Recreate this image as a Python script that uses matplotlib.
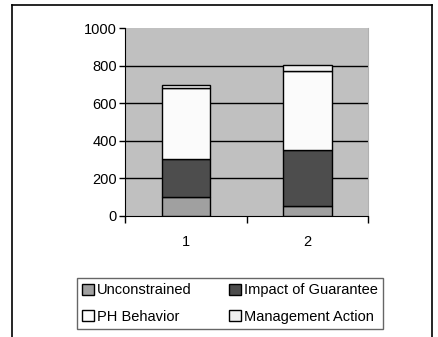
import matplotlib
matplotlib.use("Agg")
import matplotlib.pyplot as plt
from matplotlib.lines import Line2D
import numpy as np

plt.rcParams['font.family'] = ['Liberation Sans', 'DejaVu Sans']

categories = ["1", "2"]
series_names = ["Unconstrained", "Impact of Guarantee", "PH Behavior", "Management Action"]
unconstrained = [100, 50]
guarantee = [200, 300]
ph_behavior = [380, 420]
management = [20, 35]
yticks = [0, 200, 400, 600, 800, 1000]

colors = ["#a0a0a0", "#4d4d4d", "#fbfbfb", "#f0f0f0"]

fig = plt.figure(figsize=(4.38, 3.37), dpi=100)
W, H = 438, 337

# outer chart frame (open at the bottom)
fig.add_artist(Line2D([12 / W, 12 / W], [0, 1 - 5 / H], color="black", lw=1.2))
fig.add_artist(Line2D([12 / W, 432 / W], [1 - 5 / H, 1 - 5 / H], color="black", lw=1.2))
fig.add_artist(Line2D([432 / W, 432 / W], [0, 1 - 5 / H], color="black", lw=1.2))

ax = fig.add_axes([125.3 / W, 1 - 215.7 / H, (368.3 - 125.3) / W, (215.7 - 28.3) / H])
ax.set_facecolor("#c0c0c0")

x = np.arange(len(categories))
series = [unconstrained, guarantee, ph_behavior, management]
bottom = np.zeros(len(categories))
for vals, col, name in zip(series, colors, series_names):
    ax.bar(x, vals, width=0.4, bottom=bottom, color=col, edgecolor="black",
           linewidth=1.0, label=name, zorder=3)
    bottom += np.array(vals)

ax.set_xlim(-0.5, 1.5)
ax.set_ylim(0, 1000)
ax.set_yticks(yticks)
ax.set_yticklabels([str(v) for v in yticks], fontsize=10.5)
ax.set_xticks([-0.5, 0.5, 1.5])
ax.set_xticks(x, minor=True)
ax.set_xticklabels(["", "", ""])
ax.set_xticklabels(categories, minor=True, fontsize=10.5)
ax.tick_params(axis="x", which="major", length=5, direction="out", width=1)
ax.tick_params(axis="x", which="minor", length=0, pad=14)
ax.tick_params(axis="y", length=4, direction="out", width=1, pad=2)

for v in yticks[1:-1]:
    ax.axhline(v, color="black", lw=1.0, zorder=1)

ax.spines["top"].set_visible(False)
ax.spines["right"].set_color("#b0b0b0")
ax.spines["left"].set_color("black")
ax.spines["bottom"].set_color("black")

# legend filled row by row
handles, labels = ax.get_legend_handles_labels()
order = [0, 2, 1, 3]
leg = fig.legend([handles[i] for i in order], [labels[i] for i in order],
                 loc="center",
                 bbox_to_anchor=((74.7 + 385) / 2 / W, 1 - (274 + 333) / 2 / H),
                 ncol=2, fontsize=10.5, frameon=True, fancybox=False,
                 edgecolor="#404040", handlelength=0.8, handleheight=0.8,
                 handletextpad=0.2, columnspacing=2.6, borderpad=0.35,
                 labelspacing=0.85)
leg.get_frame().set_linewidth(1.0)

fig.savefig("out.png", dpi=100)
